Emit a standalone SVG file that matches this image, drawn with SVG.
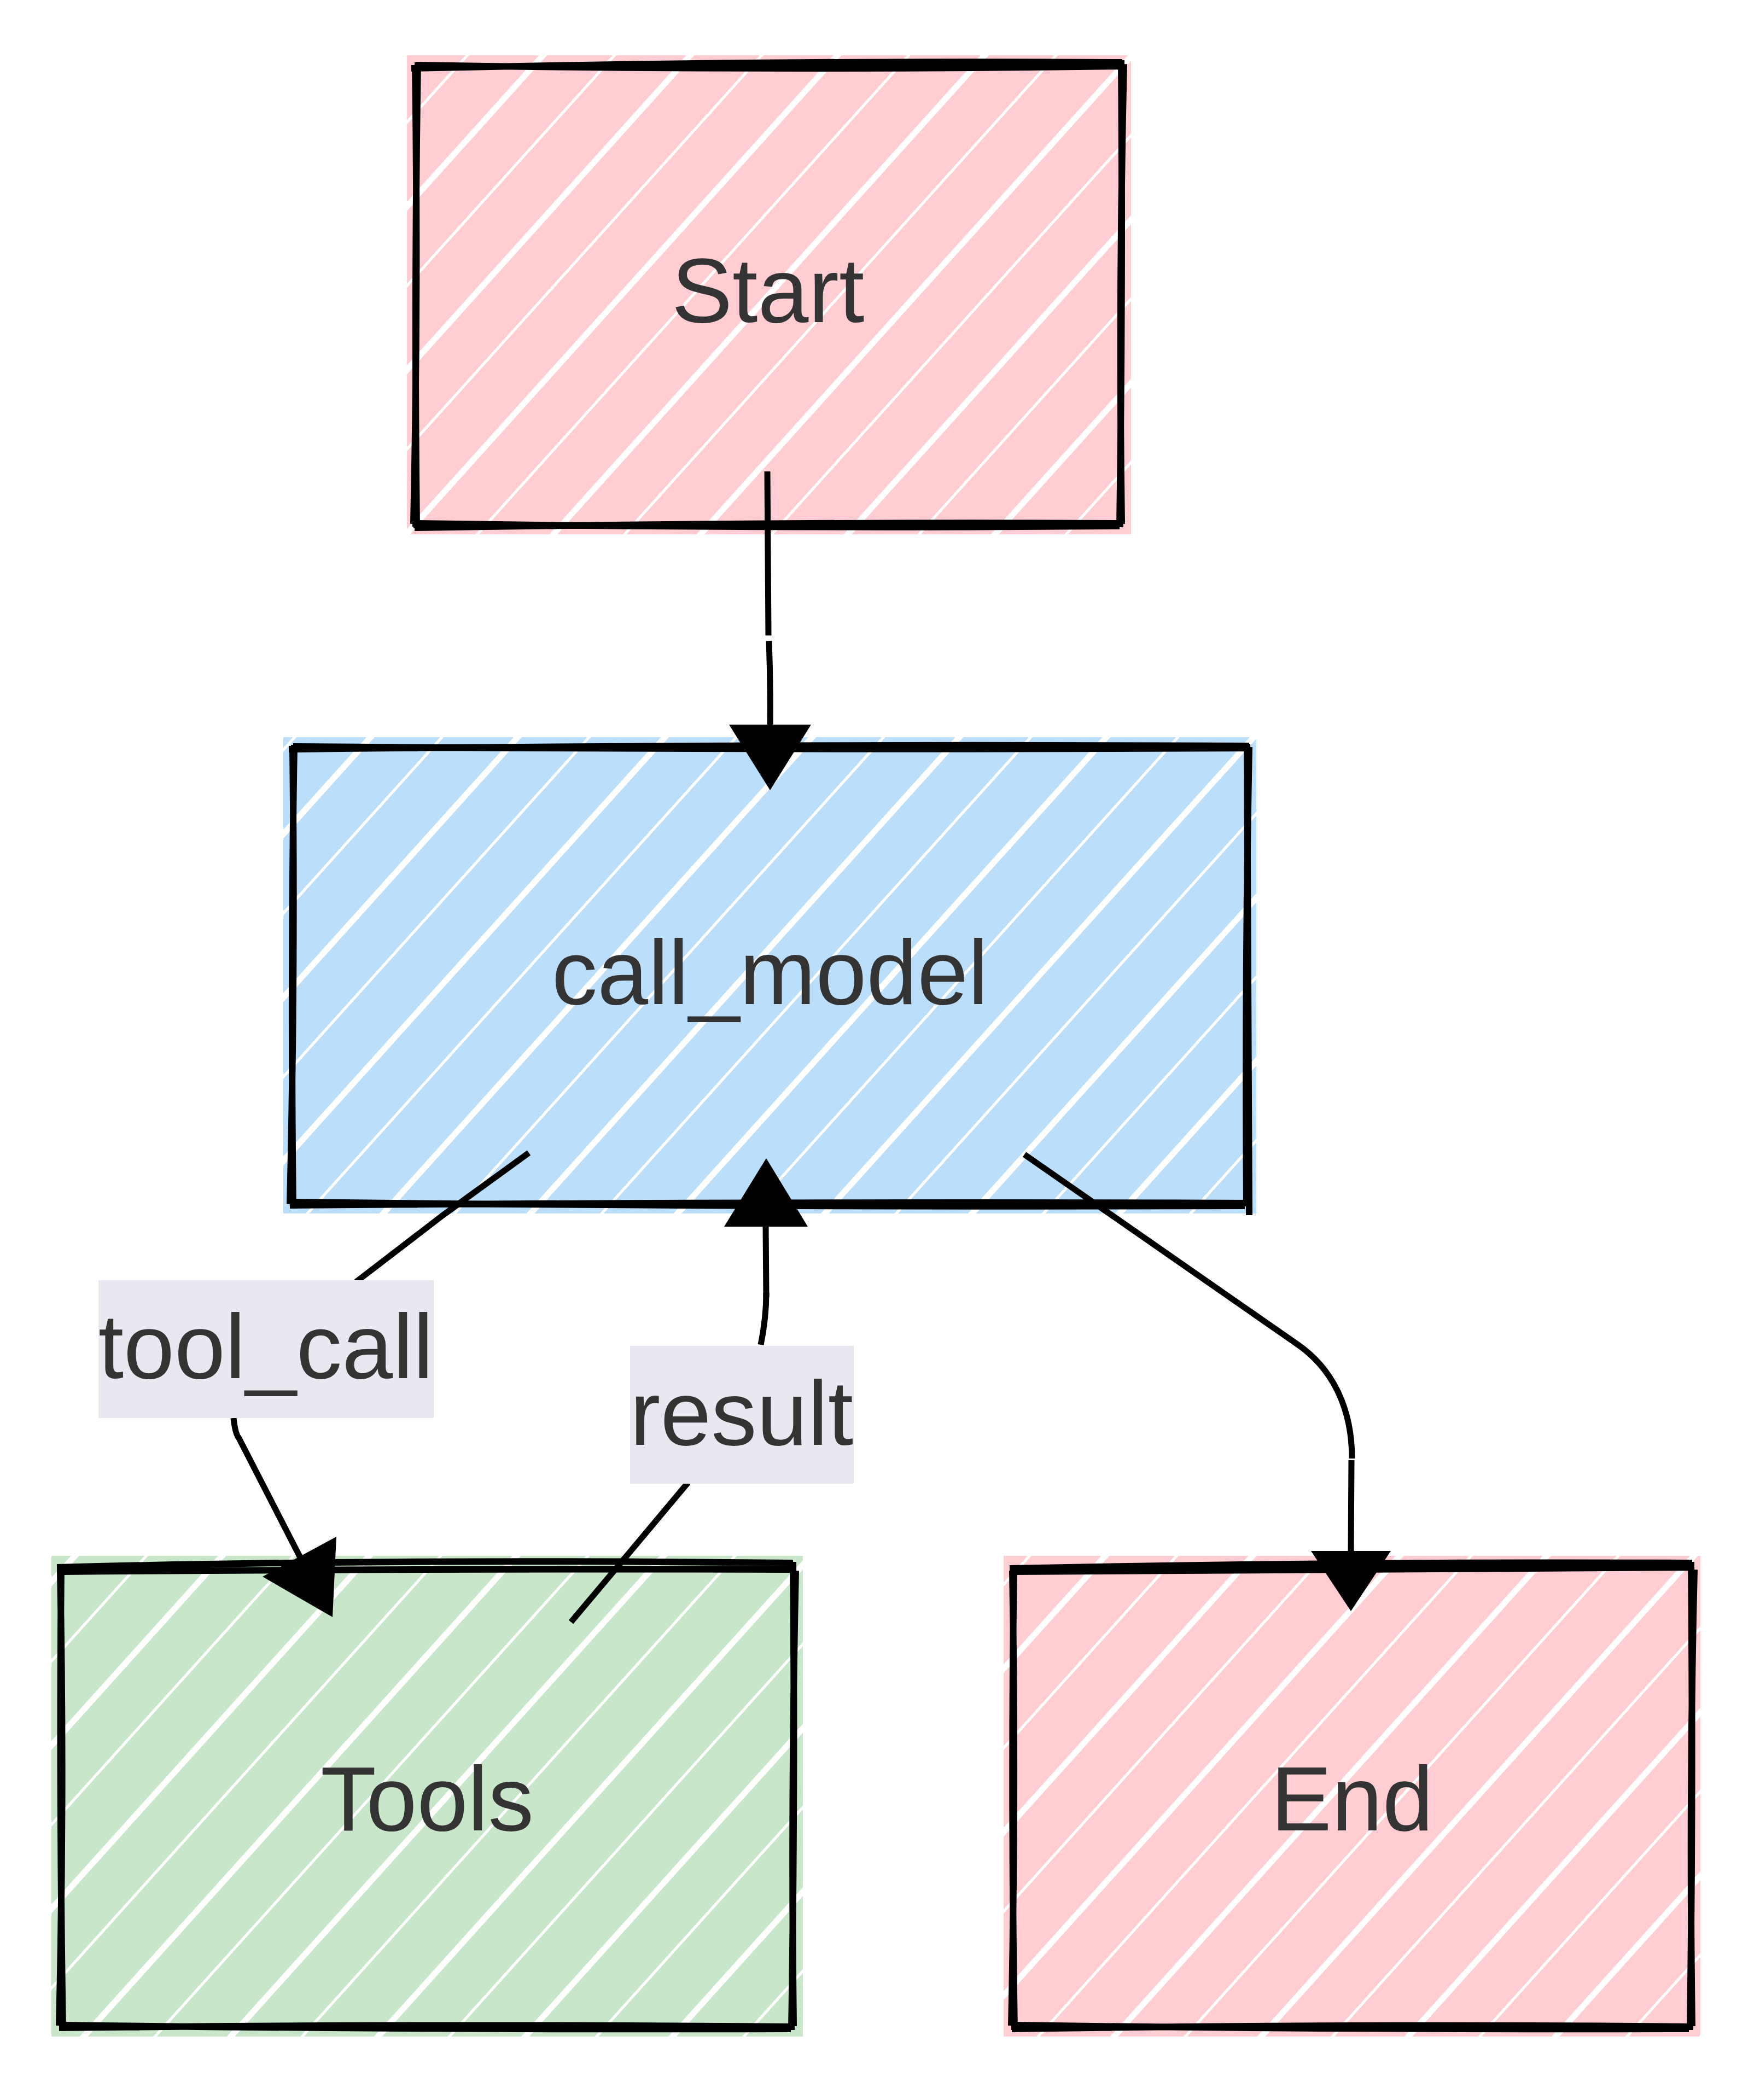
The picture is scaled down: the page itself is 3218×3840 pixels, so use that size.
<svg xmlns="http://www.w3.org/2000/svg" width="3218" height="3840" viewBox="0 0 3218 3840">
<defs>
<pattern id="hPink" patternUnits="userSpaceOnUse" width="200" height="200" patternTransform="rotate(42)">
<rect width="200" height="200" fill="#ffcdd2"/>
<rect x="0" width="11" height="200" fill="#ffffff"/>
<rect x="100" width="5" height="200" fill="#ffffff"/>
</pattern>
<pattern id="hBlue" patternUnits="userSpaceOnUse" width="200" height="200" patternTransform="rotate(42)">
<rect width="200" height="200" fill="#bbdefb"/>
<rect x="0" width="11" height="200" fill="#ffffff"/>
<rect x="100" width="5" height="200" fill="#ffffff"/>
</pattern>
<pattern id="hGreen" patternUnits="userSpaceOnUse" width="200" height="200" patternTransform="rotate(42)">
<rect width="200" height="200" fill="#c8e6c9"/>
<rect x="0" width="11" height="200" fill="#ffffff"/>
<rect x="100" width="5" height="200" fill="#ffffff"/>
</pattern>
</defs>
<style>
.outline{fill:none;stroke:#000000;stroke-width:12;stroke-linecap:butt}
.edge{fill:none;stroke:#000000;stroke-width:11;stroke-linecap:butt}
.arrow{fill:#000000;stroke:none}
.ntext{font-family:"Liberation Sans",Arial,sans-serif;font-size:167px;fill:#333333;text-anchor:middle}
.lbg{fill:#e8e8f0}
</style>
<rect x="0" y="0" width="3218" height="3840" fill="#ffffff"/>

<g id="node-start">
<rect x="744" y="101" width="1324" height="876" fill="url(#hPink)"/>
<path class="outline" d="M752,125 Q1400,110 2052,114 M760,119 Q1400,130 2056,121"/>
<path class="outline" d="M2050,110 Q2053,540 2047,964 M2055,117 Q2045,540 2051,958"/>
<path class="outline" d="M2054,957 Q1400,954 758,965 M2047,962 Q1400,967 754,957"/>
<path class="outline" d="M762,966 Q757,540 764,114 M756,958 Q765,540 759,122"/>
<text class="ntext" x="1404" y="589">Start</text>
</g>

<g id="node-call_model">
<rect x="518" y="1348" width="1779" height="871" fill="url(#hBlue)"/>
<path class="outline" d="M528,1370 Q1400,1360 2284,1364 M536,1365 Q1400,1372 2282,1368"/>
<path class="outline" d="M2280,1360 Q2283,1780 2284,2222 M2284,1366 Q2276,1780 2279,2204"/>
<path class="outline" d="M2282,2200 Q1400,2197 532,2204 M2276,2205 Q1400,2208 536,2198"/>
<path class="outline" d="M536,2210 Q531,1780 538,1362 M530,2202 Q540,1780 535,1368"/>
<text class="ntext" x="1408" y="1836">call_model</text>
</g>

<g id="node-tools">
<rect x="94" y="2845" width="1374" height="879" fill="url(#hGreen)"/>
<path class="outline" d="M104,2866 Q700,2850 1450,2858 M112,2874 Q780,2868 1455,2870"/>
<path class="outline" d="M1450,2856 Q1454,3280 1447,3712 M1455,2872 Q1446,3280 1451,3705"/>
<path class="outline" d="M1452,3706 Q780,3700 108,3708 M1446,3710 Q780,3712 114,3703"/>
<path class="outline" d="M115,3712 Q108,3280 112,2860 M108,3704 Q118,3280 110,2872"/>
<text class="ntext" x="781" y="3347">Tools</text>
</g>

<g id="node-end">
<rect x="1835" y="2845" width="1274" height="879" fill="url(#hPink)"/>
<path class="outline" d="M1846,2868 Q2470,2855 3094,2858 M1852,2874 Q2470,2868 3098,2866"/>
<path class="outline" d="M3092,2856 Q3096,3280 3090,3712 M3098,2870 Q3088,3280 3094,3705"/>
<path class="outline" d="M3095,3706 Q2470,3700 1850,3710 M3088,3710 Q2470,3712 1855,3703"/>
<path class="outline" d="M1855,3712 Q1848,3280 1854,2862 M1849,3704 Q1858,3280 1851,2872"/>
<text class="ntext" x="2472" y="3347">End</text>
</g>

<g id="connectors">
<g id="edge-start-call_model">
<path class="edge" d="M1403,862 Q1404,1010 1405,1162"/>
<path class="edge" d="M1406,1172 Q1409,1250 1408,1335"/>
<polygon class="arrow" points="1333,1325 1483,1325 1408,1445"/>
</g>
<g id="edge-call_model-tools">
<path class="edge" d="M967,2108 L810,2222 L651,2344"/>
<path class="edge" d="M427,2593 Q430,2622 437,2630 L549,2848"/>
<polygon class="arrow" points="615,2810 480,2883 608,2957"/>
</g>
<g id="edge-tools-call_model">
<path class="edge" d="M1044,2966 L1150,2840 L1258,2711"/>
<path class="edge" d="M1391,2459 Q1401,2410 1401,2364"/>
<path class="edge" d="M1401,2372 L1400,2240"/>
<polygon class="arrow" points="1324,2243 1477,2243 1401,2118"/>
</g>
<g id="edge-call_model-end">
<path class="edge" d="M1873,2111 L2372,2458 C2440,2505 2472,2580 2472,2667"/>
<path class="edge" d="M2471,2670 L2470,2840"/>
<polygon class="arrow" points="2397,2836 2543,2836 2470,2946"/>
</g>
</g>

<g id="label-tool_call">
<rect class="lbg" x="180" y="2341" width="613" height="252"/>
<text class="ntext" x="486" y="2520">tool_call</text>
</g>
<g id="label-result">
<rect class="lbg" x="1152" y="2461" width="409" height="252"/>
<text class="ntext" x="1356" y="2642">result</text>
</g>
</svg>
